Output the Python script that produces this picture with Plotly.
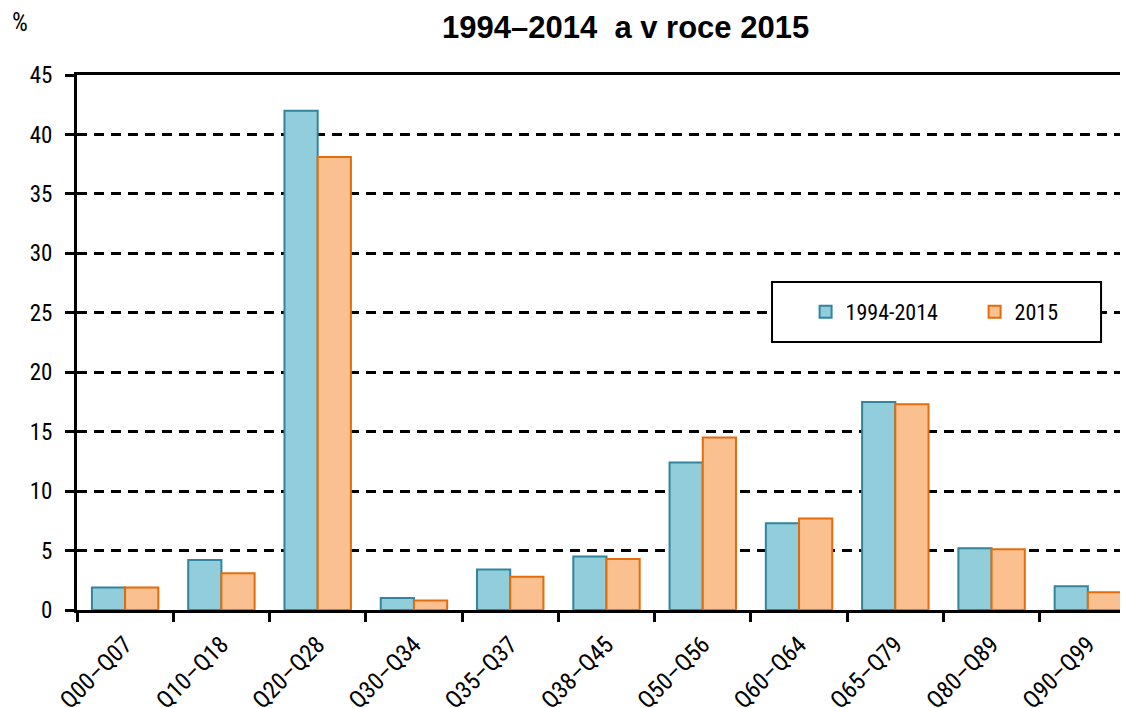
import plotly.graph_objects as go

categories = ["Q00–Q07", "Q10–Q18", "Q20–Q28", "Q30–Q34", "Q35–Q37", "Q38–Q45",
              "Q50–Q56", "Q60–Q64", "Q65–Q79", "Q80–Q89", "Q90–Q99"]
series_1994_2014 = [1.9, 4.2, 42.0, 1.0, 3.4, 4.5, 12.4, 7.3, 17.5, 5.2, 2.0]
series_2015 = [1.9, 3.1, 38.1, 0.8, 2.8, 4.3, 14.5, 7.7, 17.3, 5.1, 1.5]
y_ticks = [0, 5, 10, 15, 20, 25, 30, 35, 40, 45]

NARROW = "'Roboto Condensed', 'Liberation Sans Narrow', sans-serif"
BOLD = "'Liberation Sans', Arial, sans-serif"

fig = go.Figure()
fig.add_trace(go.Bar(
    x=categories, y=series_1994_2014, name="1994-2014",
    marker=dict(color="#92CDDC", line=dict(color="#31859C", width=2)),
))
fig.add_trace(go.Bar(
    x=categories, y=series_2015, name="2015",
    marker=dict(color="#FAC090", line=dict(color="#E46C0A", width=2)),
))

fig.update_layout(
    width=1128, height=708,
    margin=dict(l=69, r=0, t=67, b=106, autoexpand=False),
    paper_bgcolor="white", plot_bgcolor="white",
    barmode="group", bargap=0.31, bargroupgap=0,
    font=dict(family=NARROW, size=22, color="black"),
    legend=dict(orientation="h", x=0.688, xanchor="left", y=0.557, yanchor="middle",
                bgcolor="rgba(0,0,0,0)", borderwidth=0,
                font=dict(family=NARROW, size=22, color="black"),
                entrywidth=124, entrywidthmode="pixels"),
    showlegend=True,
    shapes=[dict(type="rect", xref="paper", yref="paper",
                 x0=0.6563, x1=0.967, y0=0.501, y1=0.613,
                 fillcolor="white", line=dict(color="black", width=2), layer="above")],
)

fig.update_xaxes(
    type="category", range=[-0.5, 10.5], automargin=False,
    showline=True, linecolor="black", linewidth=3, mirror=True,
    ticks="outside", tickson="boundaries", ticklen=9, tickwidth=3, tickcolor="black",
    tickangle=-45, tickfont=dict(family=NARROW, size=24, color="black"),
    ticklabelstandoff=8,
    showgrid=False,
)
fig.update_yaxes(
    range=[0, 45], tickvals=y_ticks, automargin=False,
    showline=True, linecolor="black", linewidth=3,
    ticks="outside", ticklen=9, tickwidth=2.5, tickcolor="black",
    tickfont=dict(family=NARROW, size=23, color="black"),
    ticklabelstandoff=8,
    showgrid=True, gridcolor="black", gridwidth=2.5, griddash="10px,7px",
    zeroline=False,
)

fig.add_annotation(text="<b>1994–2014  a v roce 2015</b>", xref="paper", yref="paper",
                   x=0.5175, y=1.1252, xanchor="center", yanchor="top", showarrow=False,
                   font=dict(family=BOLD, size=31, color="black"))
fig.add_annotation(text="%", xref="paper", yref="paper", x=-0.0538, y=1.099,
                   xanchor="center", yanchor="middle", showarrow=False,
                   font=dict(family=NARROW, size=25, color="black"))

fig.write_html("out.html")
